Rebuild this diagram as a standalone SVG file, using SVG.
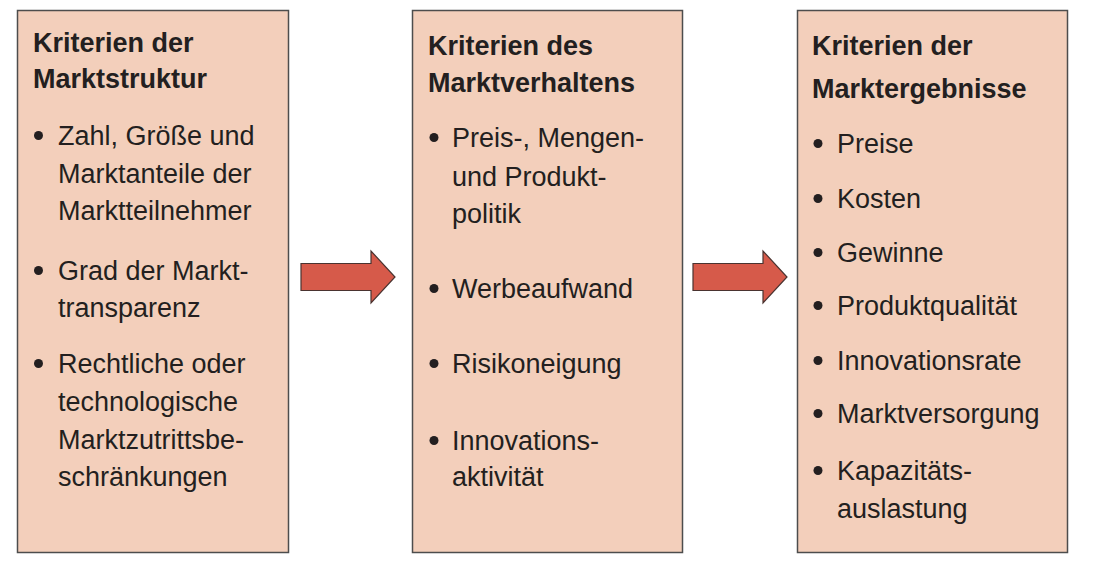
<svg xmlns="http://www.w3.org/2000/svg" width="1096" height="572" viewBox="0 0 1096 572">
<style>
.box{fill:#f3cfbb;stroke:#4d4d4d;stroke-width:1.5}
.t{font-family:"Liberation Sans",Arial,sans-serif;font-size:27px;fill:#231f20}
.h{font-weight:bold}
.b{fill:#231f20}
.arr{fill:#d65a4a;stroke:#4a3330;stroke-width:1.2;stroke-linejoin:miter}
</style>
<rect width="1096" height="572" fill="#ffffff"/>
<g id="node-marktstruktur">
<rect class="box" x="17.5" y="10.5" width="271" height="542"/>
<text class="t h" x="33" y="52">Kriterien der</text>
<text class="t h" x="33" y="88">Marktstruktur</text>
<circle class="b" cx="38.5" cy="135.5" r="4.5"/>
<text class="t" x="58" y="145">Zahl, Größe und</text>
<text class="t" x="58" y="183">Marktanteile der</text>
<text class="t" x="58" y="220">Marktteilnehmer</text>
<circle class="b" cx="38.5" cy="270.5" r="4.5"/>
<text class="t" x="58" y="280">Grad der Markt-</text>
<text class="t" x="58" y="317">transparenz</text>
<circle class="b" cx="38.5" cy="363.5" r="4.5"/>
<text class="t" x="58" y="373">Rechtliche oder</text>
<text class="t" x="58" y="411">technologische</text>
<text class="t" x="58" y="449">Marktzutrittsbe-</text>
<text class="t" x="58" y="486">schränkungen</text>
</g>
<g id="node-marktverhalten">
<rect class="box" x="412.5" y="10.5" width="270" height="542"/>
<text class="t h" x="428" y="55">Kriterien des</text>
<text class="t h" x="428" y="92">Marktverhaltens</text>
<circle class="b" cx="434" cy="137.5" r="4.5"/>
<text class="t" x="452" y="147">Preis-, Mengen-</text>
<text class="t" x="452" y="186">und Produkt-</text>
<text class="t" x="452" y="223">politik</text>
<circle class="b" cx="434" cy="288.5" r="4.5"/>
<text class="t" x="452" y="298">Werbeaufwand</text>
<circle class="b" cx="434" cy="363.5" r="4.5"/>
<text class="t" x="452" y="373">Risikoneigung</text>
<circle class="b" cx="434" cy="440.5" r="4.5"/>
<text class="t" x="452" y="450">Innovations-</text>
<text class="t" x="452" y="486">aktivität</text>
</g>
<g id="node-marktergebnisse">
<rect class="box" x="797.5" y="10.5" width="270" height="542"/>
<text class="t h" x="812" y="55">Kriterien der</text>
<text class="t h" x="812" y="98">Marktergebnisse</text>
<circle class="b" cx="818" cy="143.5" r="4.5"/>
<text class="t" x="837" y="153">Preise</text>
<circle class="b" cx="818" cy="198.5" r="4.5"/>
<text class="t" x="837" y="208">Kosten</text>
<circle class="b" cx="818" cy="252.5" r="4.5"/>
<text class="t" x="837" y="262">Gewinne</text>
<circle class="b" cx="818" cy="305.5" r="4.5"/>
<text class="t" x="837" y="315">Produktqualität</text>
<circle class="b" cx="818" cy="360.5" r="4.5"/>
<text class="t" x="837" y="370">Innovationsrate</text>
<circle class="b" cx="818" cy="413.5" r="4.5"/>
<text class="t" x="837" y="423">Marktversorgung</text>
<circle class="b" cx="818" cy="470.5" r="4.5"/>
<text class="t" x="837" y="480">Kapazitäts-</text>
<text class="t" x="837" y="518">auslastung</text>
</g>
<g id="connectors">
<polygon class="arr" points="301,263.5 371,263.5 371,251 395,277 371,303 371,290.5 301,290.5"/>
<polygon class="arr" points="693,263.5 763,263.5 763,251 787,277 763,303 763,290.5 693,290.5"/>
</g>
</svg>
